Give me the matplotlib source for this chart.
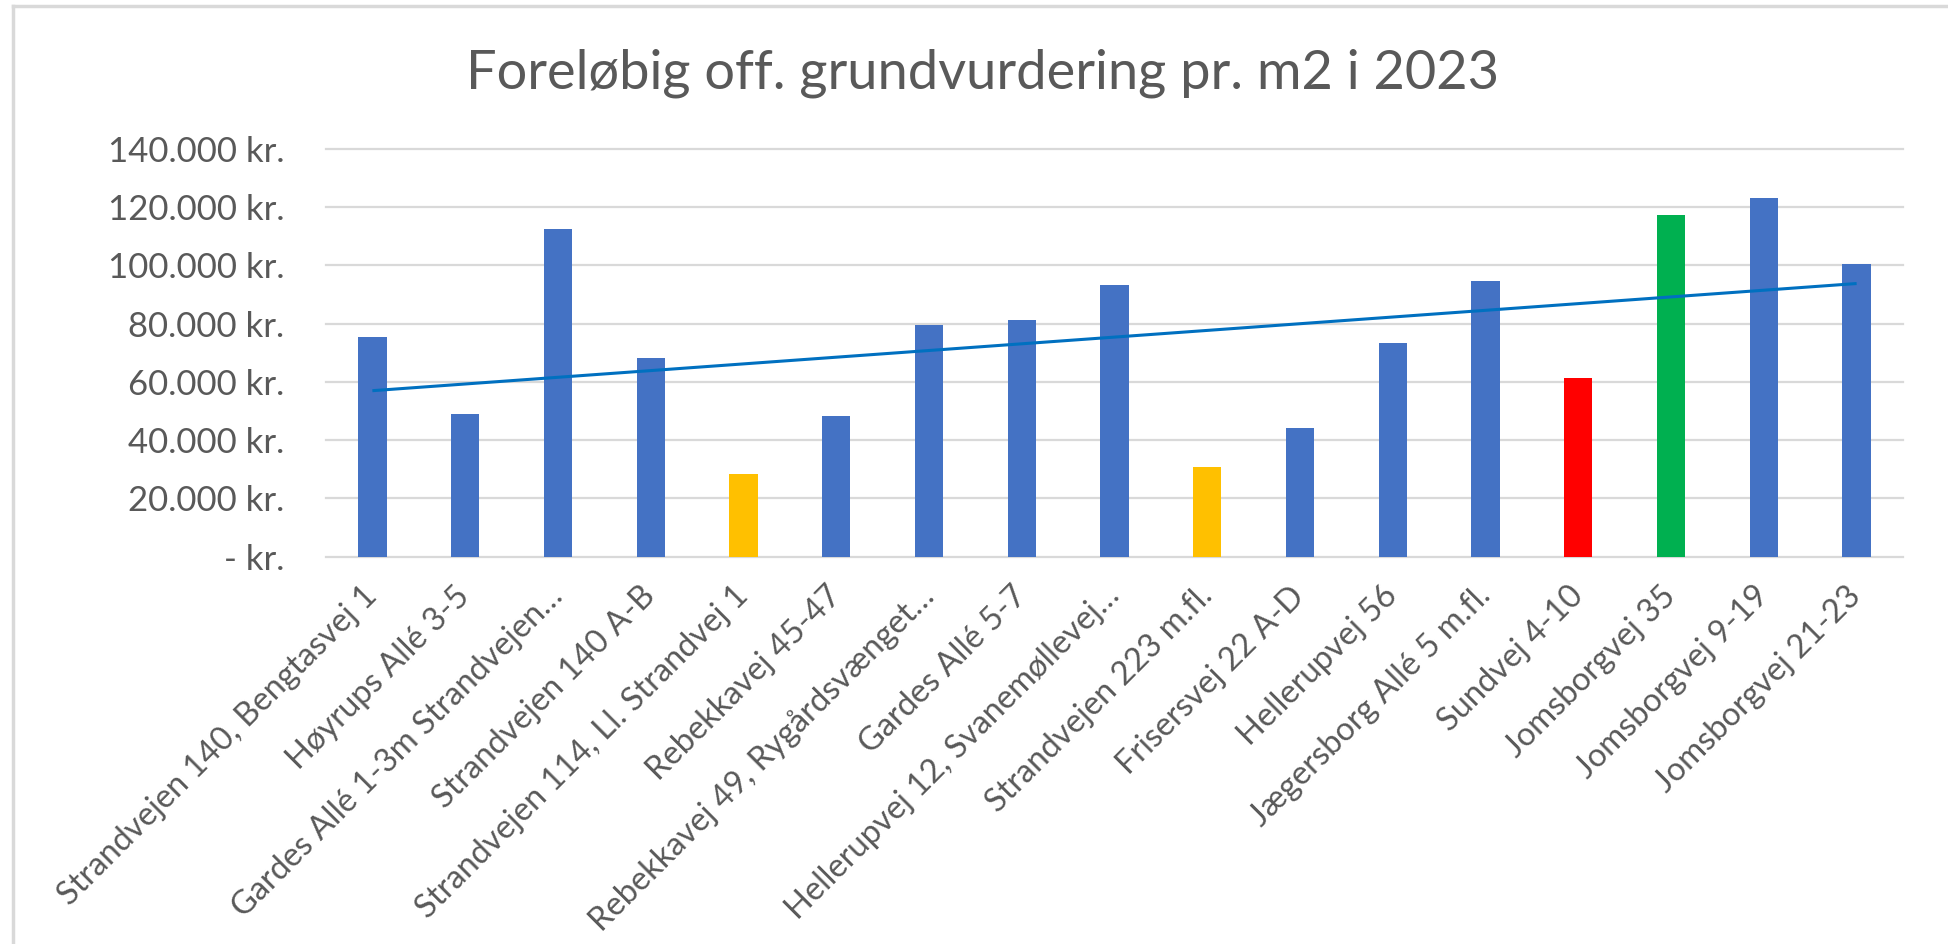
import matplotlib
matplotlib.use("Agg")
import matplotlib.pyplot as plt
import numpy as np
from matplotlib.ticker import FuncFormatter, MultipleLocator
from matplotlib.lines import Line2D

plt.rcParams['font.family'] = ['Lato', 'DejaVu Sans']

# ---- data ----
categories = [
    "Strandvejen 140, Bengtasvej 1",
    "Høyrups Allé 3-5",
    "Gardes Allé 1-3m Strandvejen…",
    "Strandvejen 140 A-B",
    "Strandvejen 114, Ll. Strandvej 1",
    "Rebekkavej 45-47",
    "Rebekkavej 49, Rygårdsvænget…",
    "Gardes Allé 5-7",
    "Hellerupvej 12, Svanemøllevej…",
    "Strandvejen 223 m.fl.",
    "Frisersvej 22 A-D",
    "Hellerupvej 56",
    "Jægersborg Allé 5 m.fl.",
    "Sundvej 4-10",
    "Jomsborgvej 35",
    "Jomsborgvej 9-19",
    "Jomsborgvej 21-23",
]
values = [75400, 48900, 112600, 68100, 28300, 48200, 79500, 81400, 93400,
          30900, 44200, 73500, 94800, 61500, 117300, 123300, 100600]
bar_colors = ["#4472C4", "#4472C4", "#4472C4", "#4472C4", "#FFC000", "#4472C4",
              "#4472C4", "#4472C4", "#4472C4", "#FFC000", "#4472C4", "#4472C4",
              "#4472C4", "#FF0000", "#00B050", "#4472C4", "#4472C4"]
title = "Foreløbig off. grundvurdering pr. m2 i 2023"

W, H = 1949, 944
fig = plt.figure(figsize=(W / 100, H / 100), dpi=100)
fig.patch.set_facecolor("white")

left, right = 326 / W, 1903 / W
bottom, top = 1 - 556.7 / H, 1 - 149 / H
ax = fig.add_axes([left, bottom, right - left, top - bottom])

x = np.arange(len(values))
ax.bar(x, values, width=0.305, color=bar_colors, zorder=2)

# linear trendline
coef = np.polyfit(x, values, 1)
ax.plot(x, np.polyval(coef, x), color="#0070C0", lw=2.2, zorder=3,
        solid_capstyle="butt")

ax.set_xlim(-0.5, len(values) - 0.5)
ax.set_ylim(0, 140000)
ax.yaxis.set_major_locator(MultipleLocator(20000))


def fmt(v, pos):
    if abs(v) < 1:
        return "- kr."
    return f"{int(round(v)):,}".replace(",", ".") + " kr."


ax.yaxis.set_major_formatter(FuncFormatter(fmt))
ax.grid(axis="y", color="#D9D9D9", lw=1.6, zorder=0)
ax.set_axisbelow(True)
for s in ax.spines.values():
    s.set_visible(False)
ax.tick_params(axis="y", length=0, pad=30, labelsize=25, labelcolor="#595959")
ax.tick_params(axis="x", length=0, pad=25, labelsize=23.5, labelcolor="#595959")
for gl in ax.get_ygridlines():
    gl.set_clip_on(False)

ax.set_xticks(x)
ax.set_xticklabels(categories, rotation=45, ha="right", va="center",
                   rotation_mode="anchor")

fig.text(983 / W, 1 - 73 / H, title, ha="center", va="center",
         fontsize=39, color="#595959")

# chart border (top and left visible)
bx, by = 13 / W, 1 - 5.5 / H
fig.add_artist(Line2D([bx, 1.0], [by, by], transform=fig.transFigure,
                      color="#D9D9D9", lw=2.5))
fig.add_artist(Line2D([bx, bx], [by, 0.0], transform=fig.transFigure,
                      color="#D9D9D9", lw=2.5))

fig.savefig("out.png", dpi=100, facecolor="white")
